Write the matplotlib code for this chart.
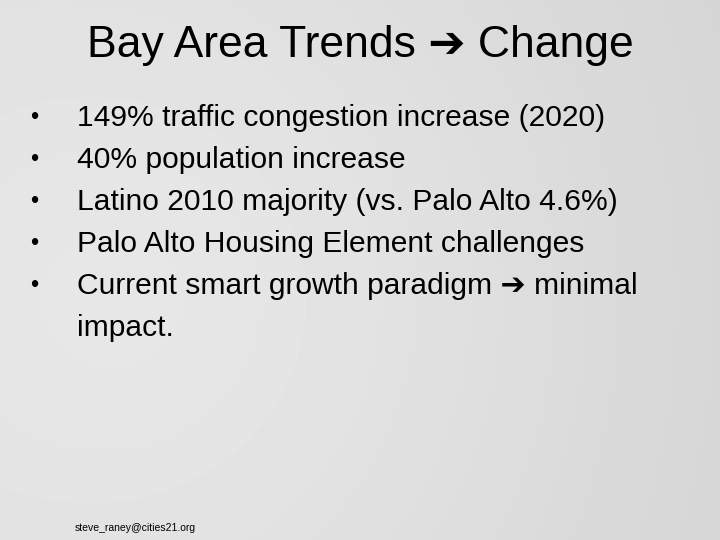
import matplotlib
matplotlib.use("Agg")
import matplotlib.pyplot as plt
import numpy as np

title = "Bay Area Trends \u2794 Change"
bullets = [
    ["149% traffic congestion increase (2020)"],
    ["40% population increase"],
    ["Latino 2010 majority (vs. Palo Alto 4.6%)"],
    ["Palo Alto Housing Element challenges"],
    ["Current smart growth paradigm \u2794 minimal", "impact."],
]
footer = "steve_raney@cities21.org"

fam = ["Liberation Sans", "DejaVu Sans"]
fig = plt.figure(figsize=(7.2, 5.4), dpi=100)
ax = fig.add_axes([0, 0, 1, 1])
ax.set_xlim(0, 720); ax.set_ylim(540, 0); ax.axis("off")

yy, xx = np.mgrid[0:540, 0:720]
bg = 0.86 + 0.05 * np.exp(-((xx - 200) ** 2 + (yy - 300) ** 2) / 2e5) - 0.03 * (xx / 720)
ax.imshow(bg, cmap="gray", vmin=0, vmax=1, extent=(0, 720, 540, 0), aspect="auto")

ax.text(360, 45, title, ha="center", va="center", fontsize=32, family=fam, color="black")

y = 118
for b in bullets:
    ax.text(30, y, "\u2022", ha="left", va="center", fontsize=17, family=fam)
    for line in b:
        ax.text(77, y, line, ha="left", va="center", fontsize=21.6, family=fam)
        y += 42

ax.text(75, 528, footer, ha="left", va="center", fontsize=7.5, family=fam)
fig.savefig("out.png", dpi=100)
